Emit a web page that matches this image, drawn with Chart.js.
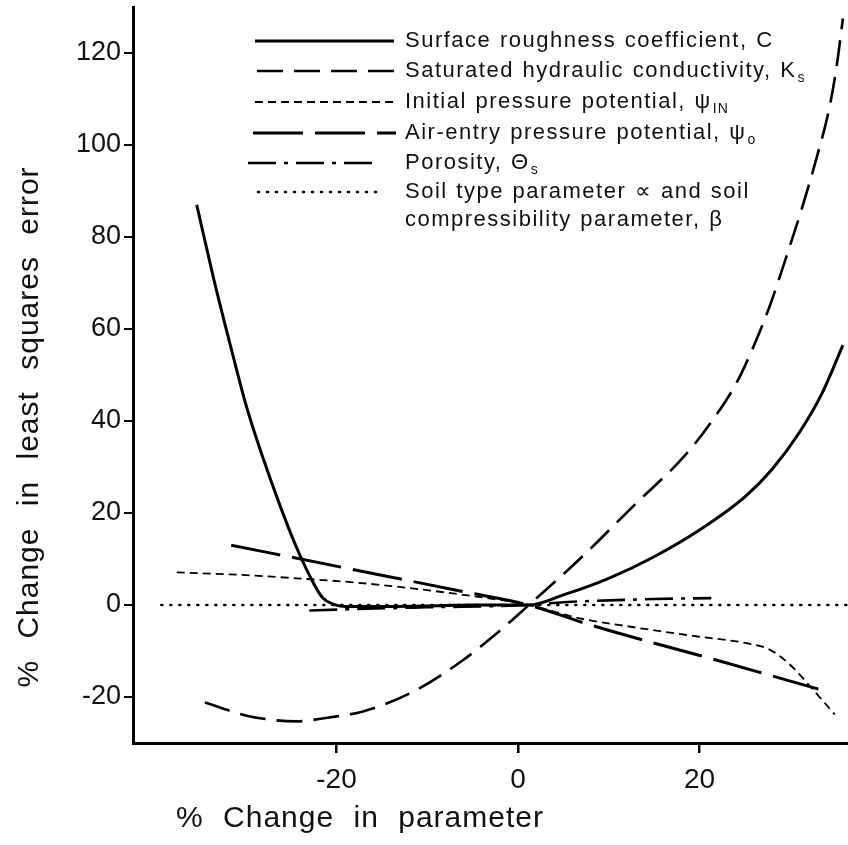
<!DOCTYPE html>
<html>
<head>
<meta charset="utf-8">
<script src="https://cdn.jsdelivr.net/npm/chart.js@4/dist/chart.umd.min.js"></script>
<style>
  html, body { margin: 0; padding: 0; background: #fff; }
  canvas { display: block; }
</style>
</head>
<body>
<canvas id="c" width="848" height="845"></canvas>
<script>
// ---- Data ----
const xTicks = [-20, 0, 20];
const yTicks = [-20, 0, 20, 40, 60, 80, 100, 120];

const seriesNames = [
  "Surface roughness coefficient, C",
  "Saturated hydraulic conductivity, Ks",
  "Initial pressure potential, ψIN",
  "Air-entry pressure potential, ψo",
  "Porosity, Θs",
  "Soil type parameter ∝ and soil compressibility parameter, β"
];

// Surface roughness coefficient, C (solid)
const cX = [-35.4, -33.6, -31.7, -29.9, -28.1, -26.2, -24.4, -22.6, -21.5, -20.4, -19, -15, -10, -5, 1.2, 5, 10, 15, 20, 25, 28, 31, 33.5, 35.8];
const cY = [87, 71.5, 56.5, 43, 32, 21.5, 12.5, 5, 1.5, 0.2, -0.3, -0.3, -0.2, 0, 0, 2.2, 5.8, 10.5, 16.3, 23.5, 29.5, 37.5, 46, 56.5];

// Saturated hydraulic conductivity, Ks (dashed)
const ksX = [-34.5, -30, -27, -24.4, -21, -17, -11.5, -6, -2.3, 1.2, 6.8, 12.7, 18.3, 21.3, 24, 25.8, 27.7, 29.5, 31.4, 32.8, 34.3, 35.1, 35.8];
const ksY = [-21.2, -24, -25, -25.3, -24.5, -23.1, -18.8, -11.9, -6.1, 0, 10, 21.5, 32.3, 39.8, 48, 55.5, 64.8, 75.3, 87, 96.5, 108, 117, 127.5];

// Initial pressure potential, psi_IN (short dashes)
const pinX = [-37.6, -30, -24.4, -18, -13.4, -6, 1.2, 6.8, 12, 16, 20, 25.2, 27.5, 28.9, 30.5, 32.5, 34.9];
const pinY = [7.1, 6.5, 5.8, 4.9, 4.0, 2.2, 0, -2.9, -4.6, -5.8, -6.9, -8.3, -9.5, -11.2, -14, -18.4, -23.8];

// Air-entry pressure potential, psi_o (long dashes)
const poX = [-31.6, -18.9, -6, 1.2, 7.9, 23, 33.1];
const poY = [13.0, 8.0, 2.9, 0, -4.3, -12.6, -18.3];

// Porosity, theta_s (dash-dot)
const thX = [-23, -20, -10, 1.2, 5, 10, 15, 21.3];
const thY = [-1.2, -1.0, -0.5, 0, 0.6, 1.0, 1.3, 1.5];

// Soil type parameter alpha and compressibility beta (dotted)
const soilX = [-39.3, 36.3];
const soilY = [0, 0];

function pts(xs, ys) { return xs.map((x, i) => ({ x: x, y: ys[i] })); }

const FONT = "'Liberation Sans', Arial, Helvetica, sans-serif";

const datasets = [
  { label: seriesNames[0], data: pts(cX, cY), borderWidth: 3, borderDash: [] },
  { label: seriesNames[1], data: pts(ksX, ksY), borderWidth: 2.6, borderDash: [26, 11] },
  { label: seriesNames[2], data: pts(pinX, pinY), borderWidth: 1.8, borderDash: [8, 5] },
  { label: seriesNames[3], data: pts(poX, poY), borderWidth: 3, borderDash: [50, 12] },
  { label: seriesNames[4], data: pts(thX, thY), borderWidth: 2.6, borderDash: [28, 8, 4, 8] },
  { label: seriesNames[5], data: pts(soilX, soilY), borderWidth: 2.6, borderDash: [1, 8], borderCapStyle: 'round' }
].map(d => Object.assign({
  borderColor: '#000', backgroundColor: '#000', pointRadius: 0,
  cubicInterpolationMode: 'monotone', fill: false, borderCapStyle: 'butt'
}, d));

// Legend layout (in pixels)
const legendRows = [
  { y: 41, x1: 255, x2: 394, parts: [["Surface roughness coefficient, C", false]] },
  { y: 71, x1: 257, x2: 400, parts: [["Saturated hydraulic conductivity, K", false], ["s", true]] },
  { y: 102, x1: 255, x2: 394, parts: [["Initial pressure potential, ψ", false], ["IN", true]] },
  { y: 133, x1: 253, x2: 396, parts: [["Air-entry pressure potential, ψ", false], ["o", true]] },
  { y: 163, x1: 248, x2: 378, parts: [["Porosity, Θ", false], ["s", true]] },
  { y: 192, x1: 258, x2: 378, parts: [["Soil type parameter ∝ and soil", false]] }
];
const legendExtra = { y: 220, text: "compressibility parameter, β" };

function setSpacing(ctx, ls, ws) {
  try { ctx.letterSpacing = ls; ctx.wordSpacing = ws; } catch (e) {}
}

const overlay = {
  id: 'overlay',
  afterDraw(chart) {
    const ctx = chart.ctx;
    ctx.save();
    // legend
    legendRows.forEach((row, i) => {
      const ds = chart.data.datasets[i];
      ctx.save();
      ctx.strokeStyle = '#000';
      ctx.lineWidth = ds.borderWidth;
      ctx.setLineDash(ds.borderDash);
      ctx.lineCap = ds.borderCapStyle || 'butt';
      ctx.beginPath();
      ctx.moveTo(row.x1, row.y);
      ctx.lineTo(row.x2, row.y);
      ctx.stroke();
      ctx.restore();
      let x = 405;
      ctx.fillStyle = '#111';
      ctx.textBaseline = 'middle';
      row.parts.forEach(([t, sub]) => {
        if (sub) {
          ctx.font = "14px " + FONT;
          setSpacing(ctx, '1px', '0px');
          ctx.fillText(t, x + 1, row.y + 7);
          x += ctx.measureText(t).width + 1;
        } else {
          ctx.font = "22px " + FONT;
          setSpacing(ctx, '1.5px', '1px');
          ctx.fillText(t, x, row.y);
          x += ctx.measureText(t).width;
        }
      });
    });
    ctx.font = "22px " + FONT;
    setSpacing(ctx, '1.5px', '1px');
    ctx.fillText(legendExtra.text, 405, legendExtra.y);

    // axis titles
    ctx.fillStyle = '#111';
    ctx.textAlign = 'center';
    ctx.textBaseline = 'middle';
    ctx.font = "30px " + FONT;
    setSpacing(ctx, '1px', '10px');
    ctx.fillText("% Change in parameter", 360, 819);
    ctx.save();
    ctx.translate(30, 427);
    ctx.rotate(-Math.PI / 2);
    setSpacing(ctx, '1px', '12px');
    ctx.fillText("% Change in least squares error", 0, 0);
    ctx.restore();
    ctx.restore();
  }
};

new Chart(document.getElementById('c'), {
  type: 'line',
  data: { datasets: datasets },
  options: {
    responsive: false,
    animation: false,
    layout: { padding: { top: 7, right: 0, left: 0, bottom: 0 } },
    plugins: { legend: { display: false }, tooltip: { enabled: false } },
    scales: {
      x: {
        type: 'linear',
        min: -42.42, max: 36.36,
        afterBuildTicks: s => { s.ticks = xTicks.map(v => ({ value: v })); },
        afterFit: s => { s.height = 102; s.paddingLeft = 0; s.paddingRight = 0; },
        grid: { drawOnChartArea: false, drawTicks: true, tickLength: 10, color: '#000', lineWidth: 2.5 },
        border: { display: true, color: '#000', width: 3 },
        ticks: { color: '#111', font: { family: FONT, size: 28 }, padding: 10, maxRotation: 0, autoSkip: false }
      },
      y: {
        type: 'linear',
        min: -30, max: 130,
        afterBuildTicks: s => { s.ticks = yTicks.map(v => ({ value: v })); },
        afterFit: s => { s.width = 133; s.paddingTop = 0; s.paddingBottom = 0; },
        grid: { drawOnChartArea: false, drawTicks: true, tickLength: 9, color: '#000', lineWidth: 2 },
        border: { display: true, color: '#000', width: 3 },
        ticks: { color: '#111', font: { family: FONT, size: 27 }, padding: 3, autoSkip: false }
      }
    }
  },
  plugins: [overlay]
});
</script>
</body>
</html>
